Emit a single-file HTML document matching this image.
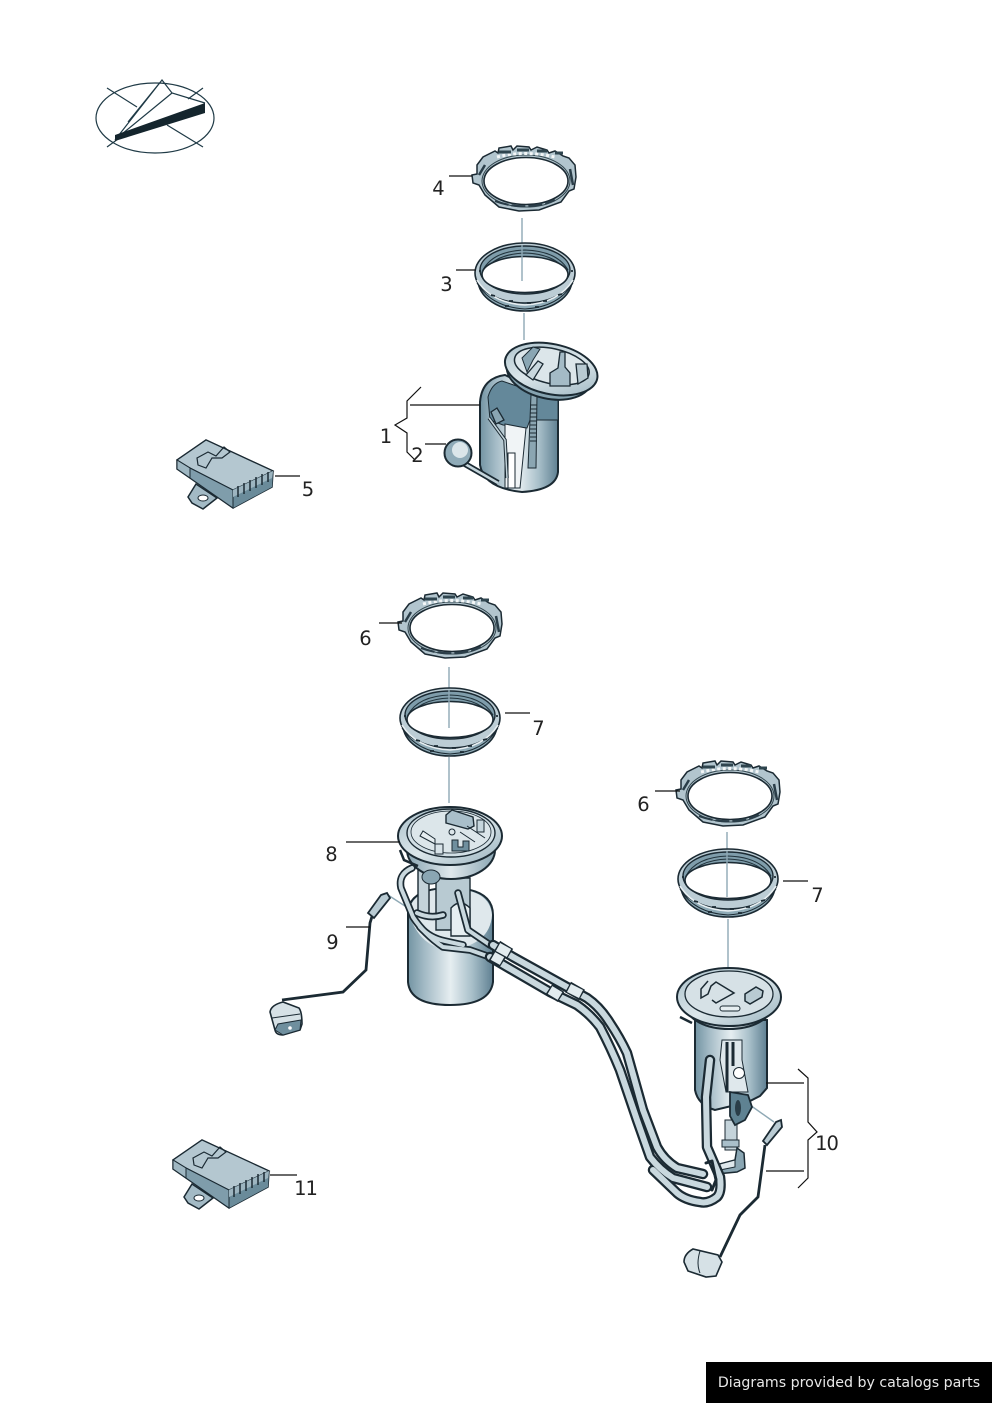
<!DOCTYPE html>
<html><head><meta charset="utf-8"><style>
html,body{margin:0;padding:0;background:#fff}
#p{position:relative;width:992px;height:1403px;overflow:hidden;background:#fff}
svg{position:absolute;left:0;top:0}
text{font-family:"DejaVu Sans",sans-serif;font-size:19.5px;fill:#222;text-anchor:middle}
#f{position:absolute;left:706px;top:1362px;width:286px;height:41px;background:#000;color:#e8e8e8;font:14.2px "DejaVu Sans",sans-serif;line-height:42px;text-align:center;white-space:nowrap}
</style></head><body><div id="p">
<svg width="992" height="1403" viewBox="0 0 992 1403" xmlns="http://www.w3.org/2000/svg">
<defs>
<linearGradient id="cyl" x1="0" x2="1" y1="0" y2="0"><stop offset="0" stop-color="#7394a3"/><stop offset=".2" stop-color="#a4bbc6"/><stop offset=".5" stop-color="#e6eef1"/><stop offset=".75" stop-color="#a9c0ca"/><stop offset="1" stop-color="#5f8092"/></linearGradient>
<linearGradient id="fl" x1="0" x2="1" y1="0" y2="1"><stop offset="0" stop-color="#a8bfc9"/><stop offset=".5" stop-color="#dbe6ea"/><stop offset="1" stop-color="#9ab3bf"/></linearGradient>
<linearGradient id="und" x1="0" x2="1" y1="0" y2="0"><stop offset="0" stop-color="#8aa6b3"/><stop offset=".5" stop-color="#dfe8ec"/><stop offset="1" stop-color="#8aa6b3"/></linearGradient>
<g id="ringA">
<path d="M-48,-18 L-42,-26 L-30,-32 L-27,-30 L-26,-35 L-14,-37 L-12,-33 L-8,-37 L4,-36 L6,-33 L12,-36 L22,-33 L24,-30 L30,-32 L38,-27 L44,-25 L50,-18 L51,-6 L49,6 L44,8 L36,19 L14,27 L-6,28 L-26,24 L-40,12 L-46,2 L-52,0 L-53,-8 L-48,-9 Z" fill="#b2c5ce" stroke="#1b2a33" stroke-width="1.5"/>
<ellipse cx="1" cy="-2" rx="42" ry="23.5" fill="#fff" stroke="#1b2a33" stroke-width="1.6"/>
<ellipse cx="1" cy="-2" rx="44" ry="26" fill="none" stroke="#33474f" stroke-width="1"/>
<path d="M-28,-26 Q0,-33 30,-26" fill="none" stroke="#f4f7f8" stroke-width="3" stroke-dasharray="3 2.5"/>
<path d="M-26,-31 H-14 M-8,-33 H4 M12,-32 H22 M30,-30 H38" stroke="#2f454f" stroke-width="3"/>
<path d="M-30,18 Q0,29 30,17" fill="none" stroke="#2a3d48" stroke-width="2.2" stroke-dasharray="14 3"/>
<path d="M-46,-8 L-40,-18 M45,-14 L48,2" stroke="#2a3d48" stroke-width="2.5"/>
</g>
<g id="ringB">
<ellipse cx="0" cy="3" rx="47" ry="31" fill="#8eaab6" stroke="#1b2a33" stroke-width="1.6"/>
<ellipse cx="0" cy="-4" rx="50" ry="30" fill="#bccdd5" stroke="#1b2a33" stroke-width="1.6"/>
<path d="M-48,6 Q-34,30 0,32 Q34,30 48,6" fill="none" stroke="#1b2a33" stroke-width="1"/>
<path d="M-48,3 Q-34,26 0,28 Q34,26 48,3" fill="none" stroke="#e8eff2" stroke-width="1.6"/>
<ellipse cx="0" cy="-7" rx="45" ry="24" fill="#7f9dab" stroke="#1b2a33" stroke-width="1.4"/>
<path d="M-42,-7 Q-32,-26 0,-27 Q32,-26 43,-7 M-42,-3 Q-32,-23 0,-24 Q32,-23 43,-3" fill="none" stroke="#22343d" stroke-width="1.1"/>
<ellipse cx="0" cy="-2.5" rx="43" ry="18" fill="#fff" stroke="#1b2a33" stroke-width="1.6"/>
<path d="M-34,18 L-30,19 M-16,24 L-12,24 M2,26 L6,26 M18,24 L22,24 M33,18 L37,17 M-20,29 L-16,29 M10,30 L14,30 M-46,-6 L-44,-6 M46,-6 L48,-6" stroke="#1b2a33" stroke-width="1.8"/>
</g>
<g id="mod">
<path d="M196,484 L188,497 L192,503 L203,509 L217,498 Z" fill="#a3bac5" stroke="#1b2a33" stroke-width="1.5"/>
<ellipse cx="203" cy="498" rx="5" ry="3" fill="#fff" stroke="#1b2a33"/>
<path d="M177,460 L206,440 L273,471 L272,487 L233,508 L190,478 L177,469 Z" fill="#6f8f9e" stroke="#1b2a33" stroke-width="1.5"/>
<path d="M177,460 L206,440 L273,471 L233,490 L190,468 Z" fill="#b4c7d0" stroke="#1b2a33" stroke-width="1.2"/>
<path d="M233,490 L273,471 L272,487 L233,508 Z" fill="#6a8b9a"/>
<path d="M177,460 L190,468 V478 L177,469 Z" fill="#9fb7c2" stroke="#1b2a33"/>
<path d="M190,468 L233,490 V508 L190,478 Z" fill="#7f9dab" stroke="#1b2a33"/>
<path d="M197,458 L208,452 L216,456 L224,447 L230,452 L222,458 L212,458 L206,468 L198,465 Z" fill="none" stroke="#1b2a33" stroke-width="1.2"/>
<path d="M233,490 L273,471 L272,478 L233,497 Z" fill="#9db5c0"/>
<path d="M238,486 V497 M244,483 V494 M250,480 V491 M256,477 V488 M262,474 V485 M268,472 V482" stroke="#1b2a33" stroke-width="1.5"/>
</g>
</defs>

<!-- compass -->
<g fill="none" stroke="#1f3a46" stroke-width="1.2">
<ellipse cx="155" cy="118" rx="59" ry="35"/>
<path d="M107,88 L137,107 M203,88 L188,99 M107,147 L118,139 M203,147 L167,125"/>
<path d="M115,140 L162,80 L172,93 L205,103 M172,93 L122,134 M162,80 L128,122"/>
</g>
<path d="M115,135 L205,103 L205,113 L115,141 Z" fill="#14252d"/>

<!-- center lines -->
<g stroke="#8fa9b5" stroke-width="1.4" fill="none">
<path d="M522,218 V281 M524,313 V340 M449,667 V728 M449,757 V803 M727,832 V897 M728,919 V968 M388,895 L408,908 M750,1105 L774,1122"/>
</g>

<!-- rings -->
<use href="#ringA" x="525" y="183"/>
<use href="#ringB" x="525" y="277"/>
<path d="M522,245 V281" stroke="#8fa9b5" stroke-width="1.4"/>
<use href="#ringA" x="451" y="630"/>
<use href="#ringB" x="450" y="722"/>
<path d="M449,690 V728" stroke="#8fa9b5" stroke-width="1.4"/>
<use href="#ringA" x="729" y="798"/>
<use href="#ringB" x="728" y="883"/>
<path d="M727,851 V897" stroke="#8fa9b5" stroke-width="1.4"/>

<!-- modules -->
<use href="#mod"/>
<use href="#mod" x="-4" y="700"/>

<!-- pump 1 -->
<path d="M480,402 Q482,378 505,375 L558,400 V472 Q556,490 522,492 Q484,488 480,465 Z" fill="url(#cyl)" stroke="#1b2a33" stroke-width="2"/>
<path d="M488,397 Q492,383 502,381 L558,400 V420 L530,420 L527,428 L503,425 L490,420 Z" fill="#64889a" stroke="#1b2a33"/>
<path d="M505,424 L526,428 L520,488 H505 Z" fill="#f0f4f6" stroke="#1b2a33"/>
<path d="M508,453 H515 V488 H508 Z" fill="#fff" stroke="#1b2a33"/>
<path d="M531,395 L537,395 L536,468 H528 Z" fill="#8ba6b2" stroke="#1b2a33"/>
<path d="M530,405 H537 M530,409 H537 M530,413 H537 M530,417 H537 M530,421 H537 M530,425 H537 M530,429 H537 M530,433 H537 M530,437 H537 M530,441 H537" stroke="#1b2a33"/>
<path d="M491,412 L497,408 L504,420 L496,424 Z" fill="#8aa6b3" stroke="#1b2a33" stroke-width="1.3"/>
<path d="M489,418 L505,440 L507,478" fill="none" stroke="#1b2a33" stroke-width="3.5"/>
<path d="M489,418 L505,440 L507,478" fill="none" stroke="#c5d5dc" stroke-width="1.5"/>
<path d="M451,456 L498,483" stroke="#1b2a33" stroke-width="6"/>
<path d="M451,456 L498,483" stroke="#c5d5dc" stroke-width="2.5"/>
<circle cx="458" cy="453" r="13.5" fill="#8fabb8" stroke="#1b2a33" stroke-width="2"/>
<ellipse cx="460" cy="450" rx="8" ry="8" fill="#dbe6ea"/>
<g transform="rotate(12 551 370)">
<ellipse cx="550" cy="374" rx="43" ry="25" fill="#86a3b0" stroke="#1b2a33" stroke-width="2"/>
<ellipse cx="551" cy="369" rx="47" ry="25" fill="url(#fl)" stroke="#1b2a33" stroke-width="2"/>
<ellipse cx="551" cy="366" rx="38" ry="17.5" fill="#dce6ea" stroke="#1b2a33" stroke-width="1.5"/>
</g>
<path d="M522,358 L533,347 L540,349 L533,360 L527,372 Z" fill="#8aa6b3" stroke="#1b2a33"/>
<path d="M526,375 L538,361 L543,364 L533,380 Z" fill="#c9d8de" stroke="#1b2a33" stroke-width="1.3"/>
<path d="M560,352 H565 V367 L570,373 V386 H550 V373 L558,368 Z" fill="#a4bbc6" stroke="#1b2a33" stroke-width="1.3"/>
<path d="M576,364 H587 L588,378 L578,384 Z" fill="#b8cad2" stroke="#1b2a33" stroke-width="1.3"/>

<!-- pump 8 body -->
<path d="M408,912 Q410,888 450,888 Q493,888 493,915 V982 Q490,1005 450,1005 Q410,1005 408,982 Z" fill="url(#cyl)" stroke="#1b2a33" stroke-width="2"/>
<path d="M409,914 Q420,948 450,950 Q490,945 492,915 Q490,889 450,889 Q410,889 409,914 Z" fill="#dfe8ec"/>
<path d="M418,870 H429 V915 H418 Z" fill="#c4d3da" stroke="#1b2a33" stroke-width="1.4"/>
<path d="M436,878 H470 V930 H436 Z" fill="#b8cad2" stroke="#1b2a33" stroke-width="1.4"/>
<path d="M451,908 Q460,898 470,908 V936 H451 Z" fill="#e6eef1" stroke="#1b2a33" stroke-width="1.4"/>
<ellipse cx="451" cy="850" rx="44" ry="29" fill="url(#und)" stroke="#1b2a33" stroke-width="2"/>
<ellipse cx="431" cy="877" rx="9" ry="7" fill="#8aa6b3" stroke="#1b2a33"/>
<ellipse cx="450" cy="836" rx="52" ry="29" fill="url(#fl)" stroke="#1b2a33" stroke-width="2"/>
<ellipse cx="451" cy="833" rx="44" ry="24" fill="#d2dfe5" stroke="#1b2a33" stroke-width="1.4"/>
<ellipse cx="451" cy="832" rx="40" ry="21" fill="#dce6ea" stroke="#1b2a33" stroke-width=".8"/>
<path d="M446,815 L452,810 L473,817 L474,826 L468,829 L446,823 Z" fill="#a9bfca" stroke="#1b2a33" stroke-width="1.4"/>
<path d="M420,836 L423,831 L435,839 L435,844 Z" fill="#e6eef1" stroke="#1b2a33"/>
<path d="M435,844 H443 V854 H435 Z" fill="#d8e3e8" stroke="#1b2a33"/>
<path d="M452,840 H458 V847 H463 V841 H469 V851 H452 Z" fill="#6f8f9e" stroke="#1b2a33"/>
<circle cx="452" cy="832" r="3" fill="none" stroke="#1b2a33"/>
<path d="M477,820 H484 V832 H477 Z" fill="#c6d6dd" stroke="#1b2a33"/>
<path d="M467,826 L485,838 M460,832 L475,842" stroke="#1b2a33"/>
<path d="M400,850 L404,860 L418,866" fill="none" stroke="#1b2a33" stroke-width="2.5"/>

<!-- pump 10 body (behind hoses) -->
<path d="M695,1020 H767 V1088 L760,1096 L748,1102 L715,1110 Q698,1105 695,1090 Z" fill="url(#cyl)" stroke="#1b2a33" stroke-width="2"/>
<path d="M722,1040 H742 V1060 L748,1092 H726 L720,1060 Z" fill="#dfe8ec" stroke="#1b2a33"/>
<path d="M727,1042 V1092 M733,1042 V1066" stroke="#1b2a33" stroke-width="3"/>
<circle cx="739" cy="1073" r="5.5" fill="#fff" stroke="#1b2a33"/>
<path d="M725,1120 H737 V1150 H725 Z" fill="#c4d3da" stroke="#1b2a33"/>
<path d="M722,1140 H739 V1147 H722 Z" fill="#a9bfca" stroke="#1b2a33"/>
<path d="M737,1148 L744,1153 L745,1168 L737,1172 L716,1174 L716,1165 L735,1160 Z" fill="#8aa6b3" stroke="#1b2a33" stroke-width="1.5"/>
<path d="M720,1164 L735,1160 V1167 L720,1170 Z" fill="#dfe8ec" stroke="#1b2a33"/>
<path d="M730,1092 L748,1095 L752,1107 L745,1120 L735,1125 L730,1116 Z" fill="#5f8292" stroke="#1b2a33" stroke-width="1.8"/>
<ellipse cx="738" cy="1108" rx="3" ry="8" fill="#2a3d48"/>

<!-- hoses -->
<g fill="none" stroke-linecap="round" stroke-linejoin="round">
<g stroke="#1b2a33" stroke-width="7.5">
<path d="M412,868 Q398,874 401,888 L413,917 Q424,934 443,947 L470,950 L490,957"/>
<path d="M458,893 L468,930 L490,945"/>
<path d="M417,913 Q430,919 443,915"/>
<path d="M420,927 Q430,938 445,941 L463,945"/>
</g>
<g stroke="#c9d8de" stroke-width="4">
<path d="M412,868 Q398,874 401,888 L413,917 Q424,934 443,947 L470,950 L490,957"/>
<path d="M458,893 L468,930 L490,945"/>
<path d="M417,913 Q430,919 443,915"/>
<path d="M420,927 Q430,938 445,941 L463,945"/>
</g>
<g stroke="#1b2a33" stroke-width="10.5">
<path d="M493,945 L513,957 L567,987 L587,998 Q600,1007 610,1023 Q620,1038 627,1053 L643,1110 L657,1147 Q664,1160 677,1168 L703,1174"/>
<path d="M490,957 L507,967 L550,992 L577,1005 Q590,1014 600,1027 Q611,1048 620,1070 L637,1120 L650,1157 Q660,1170 673,1178 L707,1187"/>
<path d="M710,1060 L706,1097 L707,1147 L720,1177 Q722,1192 717,1197 Q708,1204 700,1202 Q685,1200 677,1193 L653,1170"/>
</g>
<g stroke="#c9d8de" stroke-width="6">
<path d="M493,945 L513,957 L567,987 L587,998 Q600,1007 610,1023 Q620,1038 627,1053 L643,1110 L657,1147 Q664,1160 677,1168 L703,1174"/>
<path d="M490,957 L507,967 L550,992 L577,1005 Q590,1014 600,1027 Q611,1048 620,1070 L637,1120 L650,1157 Q660,1170 673,1178 L707,1187"/>
<path d="M710,1060 L706,1097 L707,1147 L720,1177 Q722,1192 717,1197 Q708,1204 700,1202 Q685,1200 677,1193 L653,1170"/>
</g>
<g stroke-linecap="butt">
<path d="M497,946 L510,954 M492,955 L503,962 M568,987 L582,995 M549,989 L561,997" stroke="#1b2a33" stroke-width="12"/>
<path d="M498,947 L509,953 M493,956 L502,961 M569,988 L581,994 M550,990 L560,996" stroke="#e2ebee" stroke-width="9"/>
</g>
<path d="M706,1163 L712,1161 L716,1180 L712,1190" stroke="#1b2a33" stroke-width="3"/>
</g>

<!-- pump 10 flange -->
<ellipse cx="729" cy="1007" rx="42" ry="22" fill="url(#und)" stroke="#1b2a33" stroke-width="2"/>
<ellipse cx="729" cy="997" rx="52" ry="29" fill="url(#fl)" stroke="#1b2a33" stroke-width="2"/>
<ellipse cx="729" cy="994" rx="44" ry="23" fill="#d6e1e6" stroke="#1b2a33" stroke-width="1.3"/>
<path d="M708,981 L701,989 V998 L708,994 L711,986 L716,982 L734,993 L716,1003 L712,1000" fill="none" stroke="#1b2a33" stroke-width="1.5"/>
<path d="M745,994 L756,987 L763,991 L762,997 L750,1004 L745,1001 Z" fill="#b9cbd3" stroke="#1b2a33" stroke-width="1.5"/>
<rect x="720" y="1006" width="20" height="5" rx="2.5" fill="#e6eef1" stroke="#1b2a33"/>
<path d="M680,1017 L692,1023" stroke="#1b2a33" stroke-width="2.5"/>

<!-- float 9 -->
<path d="M282,1000 L343,992 L366,970 L370,923 L374,910" fill="none" stroke="#1b2a33" stroke-width="2.8"/>
<path d="M368,913 L381,895 L387,893 L390,898 L374,918 Z" fill="#b9cbd3" stroke="#1b2a33" stroke-width="1.8"/>
<path d="M270,1012 Q271,1005 283,1002 L299,1008 Q302,1012 302,1024 L300,1030 L283,1035 Q276,1035 275,1030 Z" fill="#d6e1e6" stroke="#1b2a33" stroke-width="1.6"/>
<path d="M272,1018 L300,1014 M275,1030 L278,1024 L301,1020 L300,1030 L283,1035 Z" fill="#6f8f9e" stroke="#1b2a33"/>
<circle cx="290" cy="1028" r="1.8" fill="#fff"/>

<!-- float 10 -->
<path d="M765,1145 L758,1197 L740,1215 L720,1257" fill="none" stroke="#1b2a33" stroke-width="2.8"/>
<path d="M763,1141 L776,1122 L781,1120 L782,1127 L767,1145 Z" fill="#b9cbd3" stroke="#1b2a33" stroke-width="1.8"/>
<path d="M684,1262 Q684,1254 693,1249 L718,1255 L722,1262 L716,1276 L706,1277 L688,1271 Z" fill="#d6e1e6" stroke="#1b2a33" stroke-width="1.6"/>
<path d="M700,1251 Q696,1264 700,1273" fill="none" stroke="#1b2a33"/>

<!-- leaders -->
<g stroke="#111" stroke-width="1.2" fill="none">
<path d="M449,176 H472 M456,270 H476"/>
<path d="M421,387 L407,401 V418 L395,425 L407,433 V452 L414,459"/>
<path d="M410,405 H480 M425,444 H446 M275,476 H300"/>
<path d="M379,623 H402 M505,713 H530 M346,842 H400 M346,927 H370 M655,791 H680 M783,881 H808"/>
<path d="M798,1069 L808,1078 V1122 L817,1132 L808,1140 V1178 L798,1188 M766,1083 H804 M766,1171 H804 M270,1175 H297"/>
</g>

<g>
<text x="438.500" y="195">4</text>
<text x="446.500" y="291">3</text>
<text x="386" y="443">1</text>
<text x="417.500" y="462">2</text>
<text x="308" y="496">5</text>
<text x="365.500" y="645">6</text>
<text x="538.500" y="735">7</text>
<text x="331.500" y="861">8</text>
<text x="332.500" y="949">9</text>
<text x="643.500" y="811">6</text>
<text x="817.500" y="902">7</text>
<text x="826.500" y="1150" letter-spacing="-1">10</text>
<text x="305.500" y="1195" letter-spacing="-1">11</text>
</g>
</svg>
<div id="f">Diagrams provided by catalogs parts</div>
</div></body></html>
